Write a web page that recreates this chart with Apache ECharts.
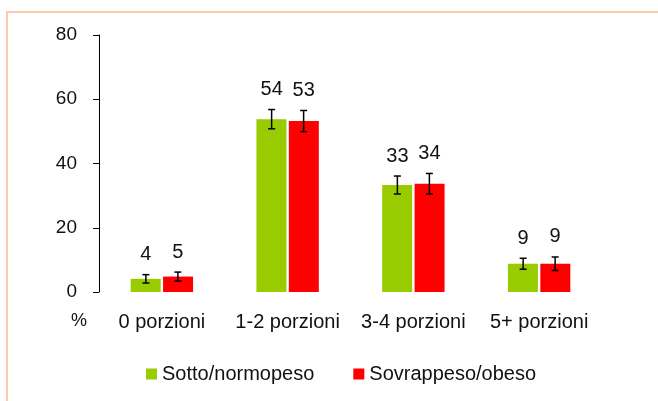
<!DOCTYPE html>
<html>
<head>
<meta charset="utf-8">
<script src="https://cdn.jsdelivr.net/npm/echarts@6/dist/echarts.min.js"></script>
<style>
  html, body { margin: 0; padding: 0; background: #fff; }
  #chart { width: 658px; height: 401px; }
</style>
</head>
<body>
<div id="chart"></div>
<script>
  // dati
  var categories = ['0 porzioni', '1-2 porzioni', '3-4 porzioni', '5+ porzioni'];
  var sottoValues = [4.1, 53.8, 33.3, 8.8];
  var sovraValues = [4.8, 53.2, 33.7, 8.8];
  var sottoErr = [1.3, 3.0, 2.8, 1.7];
  var sovraErr = [1.4, 3.3, 3.2, 2.1];
  var yTicks = [0, 20, 40, 60, 80];

  var font = 'Liberation Sans, Arial, sans-serif';

  function errData(values, errs) {
    return values.map(function (v, i) { return [i, v, errs[i]]; });
  }

  function errRender(shift) {
    return function (params, api) {
      var i = api.value(0), v = api.value(1), e = api.value(2);
      var hi = api.coord([i, v + e]);
      var lo = api.coord([i, v - e]);
      var x = hi[0] + shift;
      var st = { stroke: '#000', lineWidth: 1.5 };
      return {
        type: 'group',
        children: [
          { type: 'line', shape: { x1: x, y1: hi[1], x2: x, y2: lo[1] }, style: st },
          { type: 'line', shape: { x1: x - 3.5, y1: hi[1], x2: x + 3.5, y2: hi[1] }, style: st },
          { type: 'line', shape: { x1: x - 3.5, y1: lo[1], x2: x + 3.5, y2: lo[1] }, style: st },
          { type: 'text', x: x, y: hi[1] - 20,
            style: { text: String(Math.round(v)), fill: '#111', font: '20px ' + font,
                     align: 'center', verticalAlign: 'middle' } }
        ]
      };
    };
  }

  var chart = echarts.init(document.getElementById('chart'));
  var option = {
    animation: false,
    backgroundColor: '#fff',
    grid: { left: 99, right: 56, top: 35, bottom: 109 },
    legend: {
      data: ['Sotto/normopeso', 'Sovrappeso/obeso'],
      left: 141, top: 359,
      itemWidth: 11, itemHeight: 11, itemGap: 39,
      icon: 'rect',
      textStyle: { fontFamily: font, fontSize: 20, color: '#111' }
    },
    xAxis: {
      type: 'category',
      data: categories,
      axisLine: { show: false },
      axisTick: { show: false },
      axisLabel: { interval: 0, fontFamily: font, fontSize: 20, color: '#111', margin: 20 }
    },
    yAxis: {
      type: 'value',
      min: yTicks[0], max: yTicks[yTicks.length - 1], interval: 20,
      axisLine: { show: true, lineStyle: { color: '#000', width: 1 } },
      axisTick: { show: true, inside: false, length: 6, lineStyle: { color: '#000' } },
      splitLine: { show: false },
      axisLabel: { fontFamily: font, fontSize: 19, color: '#111', margin: 22 }
    },
    graphic: [
      { type: 'rect', shape: { x: 7, y: 12, width: 800, height: 600 },
        style: { fill: 'none', stroke: '#F8CBAD', lineWidth: 2 } },
      { type: 'text', x: 79, y: 321,
        style: { text: '%', font: '18px ' + font, fill: '#111', align: 'center', verticalAlign: 'middle' } }
    ],
    series: [
      { name: 'Sotto/normopeso', type: 'bar', data: sottoValues, barWidth: 30, barGap: '8%',
        itemStyle: { color: '#99CC00' } },
      { name: 'Sovrappeso/obeso', type: 'bar', data: sovraValues, barWidth: 30, barGap: '8%',
        itemStyle: { color: '#FF0000' } },
      { type: 'custom', data: errData(sottoValues, sottoErr), renderItem: errRender(-16), z: 5 },
      { type: 'custom', data: errData(sovraValues, sovraErr), renderItem: errRender(16), z: 5 }
    ]
  };
  chart.setOption(option);
</script>
</body>
</html>
